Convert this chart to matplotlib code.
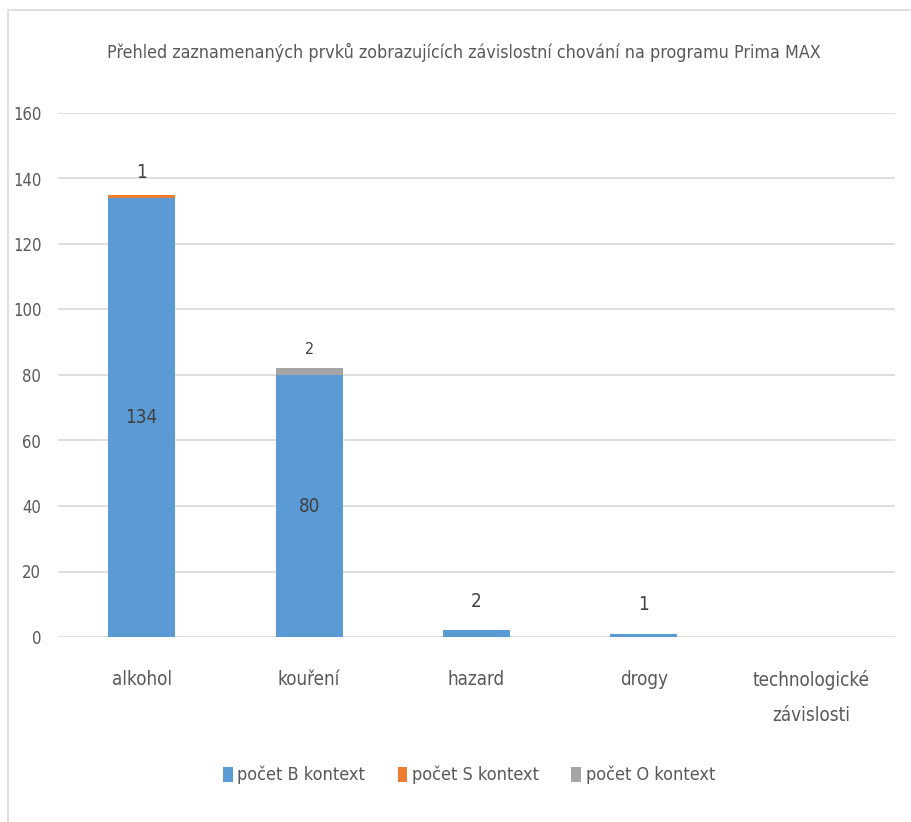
import matplotlib
matplotlib.use("Agg")
import matplotlib.pyplot as plt
from matplotlib.patches import Rectangle
import numpy as np

plt.rcParams['font.family'] = ['DejaVu Sans']
plt.rcParams['font.stretch'] = 'condensed'

categories = ["alkohol", "kouření", "hazard", "drogy", "technologické\nzávislosti"]
b_vals = [134, 80, 2, 1, 0]
s_vals = [1, 0, 0, 0, 0]
o_vals = [0, 2, 0, 0, 0]
series_names = ["počet B kontext", "počet S kontext", "počet O kontext"]
colors = ["#5B9BD5", "#ED7D31", "#A5A5A5"]
title = "Přehled zaznamenaných prvků zobrazujících závislostní chování na programu Prima MAX"

fig = plt.figure(figsize=(9.12, 8.22), dpi=100)
fig.patches.append(Rectangle((8/912, -0.1), 1.2, 1 - 10/822 + 0.1, transform=fig.transFigure,
                             fill=False, edgecolor="#D9D9D9", linewidth=1.2))
ax = fig.add_axes([58/912, 1 - 637/822, (895 - 58)/912, (637 - 113)/822])

x = np.arange(len(categories))
w = 0.4
b = np.array(b_vals, dtype=float)
s = np.array(s_vals, dtype=float)
o = np.array(o_vals, dtype=float)
ax.bar(x, b, w, color=colors[0], label=series_names[0], zorder=3)
ax.bar(x, s, w, bottom=b, color=colors[1], label=series_names[1], zorder=3)
ax.bar(x, o, w, bottom=b + s, color=colors[2], label=series_names[2], zorder=3)

lc = "#404040"
for i, v in enumerate(b_vals):
    if v >= 10:
        ax.text(x[i], v / 2, str(v), ha="center", va="center", fontsize=13.5, color=lc, zorder=4)
    elif v > 0:
        ax.annotate(str(v), (x[i], v), xytext=(0, 14), textcoords="offset points",
                    ha="center", va="bottom", fontsize=13.5, color=lc)
for i, v in enumerate(s_vals):
    if v > 0:
        ax.annotate(str(v), (x[i], b[i] + v), xytext=(0, 9), textcoords="offset points",
                    ha="center", va="bottom", fontsize=13.5, color=lc)
for i, v in enumerate(o_vals):
    if v > 0:
        ax.annotate(str(v), (x[i], b[i] + s[i] + v), xytext=(0, 8), textcoords="offset points",
                    ha="center", va="bottom", fontsize=11.5, color=lc)

ax.set_ylim(0, 160)
ax.set_xlim(-0.5, len(categories) - 0.5)
ax.set_yticks(np.arange(0, 161, 20))
ax.set_xticks(x)
ax.set_xticklabels(categories, linespacing=2.05)
ax.yaxis.grid(True, color="#D9D9D9", linewidth=1.2, zorder=0)
for sp in ax.spines.values():
    sp.set_visible(False)
ax.tick_params(axis="both", length=0, colors="#595959")
ax.tick_params(axis="x", labelsize=13.5, pad=24)
ax.tick_params(axis="y", labelsize=12, pad=12)

fig.text(464/912, 1 - 52/822, title, ha="center", va="center", fontsize=12.8, color="#595959")

fig.legend(loc="center", bbox_to_anchor=(469/912, 1 - 775/822), ncol=3, frameon=False,
           fontsize=13, handlelength=0.55, handleheight=0.9, handletextpad=0.25, columnspacing=1.8,
           labelcolor="#595959")

fig.savefig("out.png", dpi=100)
